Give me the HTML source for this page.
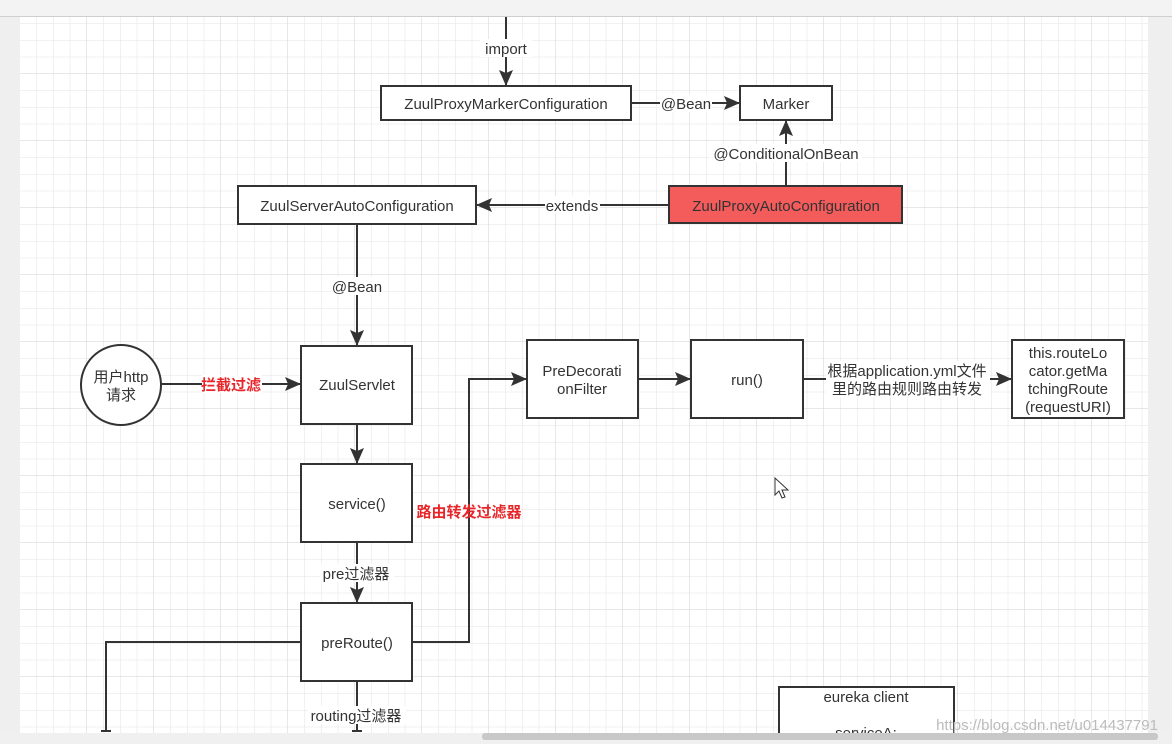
<!DOCTYPE html>
<html><head><meta charset="utf-8"><style>
html,body{margin:0;padding:0;width:1172px;height:744px;overflow:hidden;background:#efefef;}
svg{display:block}
text{font-family:"Liberation Sans","Noto Sans CJK SC",sans-serif;font-size:15px;fill:#333;}
</style></head><body>
<svg width="1172" height="744" viewBox="0 0 1172 744" xmlns="http://www.w3.org/2000/svg">
<defs>
<pattern id="minor" x="20" y="7" width="16.75" height="16.75" patternUnits="userSpaceOnUse">
<path d="M16.75 0V16.75H0" fill="none" stroke="#e3e3e3" stroke-width="1"/>
</pattern>
<pattern id="major" x="20" y="7" width="67" height="67" patternUnits="userSpaceOnUse">
<path d="M67 0V67H0" fill="none" stroke="#d2d2d2" stroke-width="1"/>
</pattern>
<marker id="a" markerWidth="16" markerHeight="14" refX="15" refY="7" orient="auto" markerUnits="userSpaceOnUse"><path d="M0,0 L16,7 L0,14 L3,7 z" fill="#333"/></marker>
</defs>
<rect x="0" y="0" width="1172" height="16" fill="#f3f3f3"/>
<line x1="0" y1="16.5" x2="1172" y2="16.5" stroke="#cfcfcf"/>
<rect x="20" y="17" width="1128" height="716" fill="#fff"/>
<rect x="20" y="17" width="1128" height="716" fill="url(#minor)"/>
<rect x="20" y="17" width="1128" height="716" fill="url(#major)"/>

<g stroke="#333" stroke-width="2" fill="none">
<line x1="506" y1="17" x2="506" y2="85" marker-end="url(#a)"/>
<line x1="631" y1="103" x2="739" y2="103" marker-end="url(#a)"/>
<line x1="786" y1="186" x2="786" y2="121" marker-end="url(#a)"/>
<line x1="669" y1="205" x2="477" y2="205" marker-end="url(#a)"/>
<line x1="357" y1="224" x2="357" y2="345" marker-end="url(#a)"/>
<line x1="161" y1="384" x2="300" y2="384" marker-end="url(#a)"/>
<line x1="357" y1="424" x2="357" y2="463" marker-end="url(#a)"/>
<line x1="357" y1="542" x2="357" y2="602" marker-end="url(#a)"/>
<polyline points="412,642 469,642 469,379 526,379" marker-end="url(#a)"/>
<line x1="638" y1="379" x2="690" y2="379" marker-end="url(#a)"/>
<line x1="803" y1="379" x2="1011" y2="379" marker-end="url(#a)"/>
<polyline points="301,642 106,642 106,732"/>
<line x1="101" y1="731" x2="111" y2="731"/>
<line x1="357" y1="681" x2="357" y2="732"/>
<line x1="352" y1="731" x2="362" y2="731"/>
</g>

<g stroke="#333" stroke-width="2">
<rect x="381" y="86" width="250" height="34" fill="#fff"/>
<rect x="740" y="86" width="92" height="34" fill="#fff"/>
<rect x="669" y="186" width="233" height="37" fill="#f45b5b"/>
<rect x="238" y="186" width="238" height="38" fill="#fff"/>
<circle cx="121" cy="385" r="40" fill="#fff"/>
<rect x="301" y="346" width="111" height="78" fill="#fff"/>
<rect x="301" y="464" width="111" height="78" fill="#fff"/>
<rect x="301" y="603" width="111" height="78" fill="#fff"/>
<rect x="527" y="340" width="111" height="78" fill="#fff"/>
<rect x="691" y="340" width="112" height="78" fill="#fff"/>
<rect x="1012" y="340" width="112" height="78" fill="#fff"/>
<rect x="779" y="687" width="175" height="60" fill="#fff"/>
</g>

<g text-anchor="middle">
<rect x="480" y="39" width="52" height="18" fill="#fff"/>
<text x="506" y="54">import</text>
<text x="506" y="109">ZuulProxyMarkerConfiguration</text>
<text x="786" y="109">Marker</text>
<rect x="660" y="94" width="52" height="18" fill="#fff"/>
<text x="686" y="109">@Bean</text>
<rect x="710" y="144" width="152" height="18" fill="#fff"/>
<text x="786" y="159">@ConditionalOnBean</text>
<text x="786" y="211">ZuulProxyAutoConfiguration</text>
<text x="357" y="211">ZuulServerAutoConfiguration</text>
<rect x="545" y="196" width="55" height="18" fill="#fff"/>
<text x="572" y="211">extends</text>
<rect x="331" y="277" width="52" height="18" fill="#fff"/>
<text x="357" y="292">@Bean</text>
<text x="121" y="382">用户http</text>
<text x="121" y="400">请求</text>
<rect x="202" y="375" width="60" height="18" fill="#fff"/>
<text x="231" y="390" style="fill:#e8262a;font-weight:bold">拦截过滤</text>
<text x="357" y="390">ZuulServlet</text>
<text x="357" y="509">service()</text>
<text x="469" y="517" style="fill:#e8262a;font-weight:bold">路由转发过滤器</text>
<rect x="320" y="564" width="74" height="18" fill="#fff"/>
<text x="356" y="579">pre过滤器</text>
<text x="357" y="648">preRoute()</text>
<rect x="308" y="706" width="98" height="18" fill="#fff"/>
<text x="356" y="721">routing过滤器</text>
<text x="582" y="376">PreDecorati</text>
<text x="582" y="394">onFilter</text>
<text x="747" y="385">run()</text>
<rect x="826" y="361" width="164" height="36" fill="#fff"/>
<text x="907" y="376">根据application.yml文件</text>
<text x="907" y="394">里的路由规则路由转发</text>
<text x="1068" y="358">this.routeLo</text>
<text x="1068" y="376">cator.getMa</text>
<text x="1068" y="394">tchingRoute</text>
<text x="1068" y="412">(requestURI)</text>
<text x="866" y="702">eureka client</text>
<text x="866" y="738">serviceA:</text>
<text x="1047" y="730" style="fill:#bbb;font-size:15px">https://blog.csdn.net/u014437791</text>
</g>
<rect x="0" y="733" width="1172" height="11" fill="#f0f0f0"/>
<rect x="482" y="733" width="676" height="7" rx="3" fill="#c8c8c8"/>
<path d="M775,478 L775,495 L779,491 L782,498 L785,497 L782,490 L788,490 Z" fill="#fff" stroke="#333" stroke-width="1"/>
</svg>
</body></html>
